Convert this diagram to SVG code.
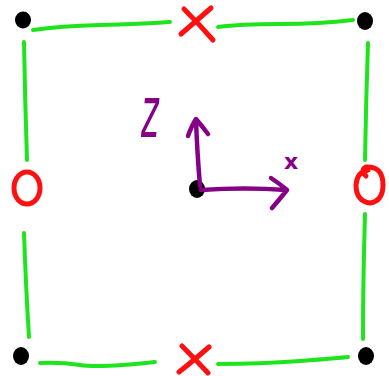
<svg xmlns="http://www.w3.org/2000/svg" width="389" height="376" viewBox="0 0 389 376">
<style>
.edge{fill:none;stroke:#1ee41e;stroke-width:4;stroke-linecap:round;stroke-linejoin:round}
.red{fill:none;stroke:#ff1010;stroke-width:5;stroke-linecap:round;stroke-linejoin:round}
.axis{fill:none;stroke:#850085;stroke-width:4.5;stroke-linecap:round;stroke-linejoin:round}
.dot{fill:#000}
.lbl{fill:#850085;font-family:"DejaVu Sans",sans-serif;font-weight:bold}
.lblz{fill:#850085;font-family:"DejaVu Sans",sans-serif;font-weight:normal;font-style:italic}
</style>
<rect width="389" height="376" fill="#fff"/>
<g id="connectors">
<path class="edge" d="M33,30 Q60,26 100,25 T170,22"/>
<path class="edge" d="M218,27 Q240,24 280,24 T353,20"/>
<path class="edge" d="M24,42 Q25,100 27,160"/>
<path class="edge" d="M24,233 Q26,290 29,337"/>
<path class="edge" d="M368,43 Q366,100 365,160"/>
<path class="edge" d="M365,214 Q363,280 363,339"/>
<path class="edge" d="M40,363 Q60,362 80,365 T155,362"/>
<path class="edge" d="M218,364 Q260,364 300,361 T348,357"/>
</g>
<g id="n_tl"><ellipse class="dot" cx="23" cy="20" rx="8" ry="8.5"/></g>
<g id="n_tr"><ellipse class="dot" cx="365" cy="21" rx="8" ry="9"/></g>
<g id="n_bl"><ellipse class="dot" cx="21" cy="356" rx="8" ry="9"/></g>
<g id="n_br"><ellipse class="dot" cx="366" cy="356" rx="8" ry="9"/></g>
<g id="n_top_x"><path class="red" d="M184,9 Q200,25 213,40 M211,8 Q195,22 181,34"/></g>
<g id="n_bot_x"><path class="red" d="M182,346 Q196,360 208,373 M209,347 Q193,361 179,372"/></g>
<g id="n_left_o"><ellipse class="red" cx="27" cy="188" rx="13" ry="16"/></g>
<g id="n_right_o"><path class="red" d="M366,176 Q360,170 366,167 Q383,166 383,185 Q383,201 370,203 Q356,201 356,185 Q357,172 368,170"/></g>
<g id="n_origin"><ellipse class="dot" cx="197" cy="189" rx="8" ry="9"/></g>
<g id="axes">
<path class="axis" d="M200,186 Q197,150 196,120 M188,136 Q192,125 196,119 Q202,126 208,134"/>
<path class="axis" d="M201,190 Q245,187 286,190 M271,178 Q280,184 287,190 Q279,200 272,208"/>
<text class="lbl" x="284" y="169" font-size="22">x</text>
<text class="lblz" transform="translate(141,137) scale(1,2.1)" font-size="34">z</text>
</g>
</svg>
